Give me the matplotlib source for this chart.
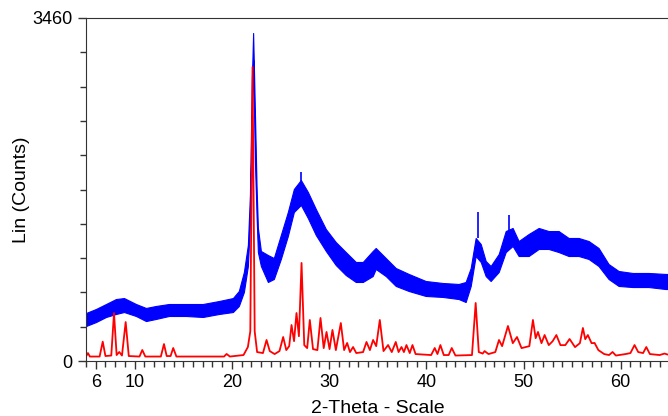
import matplotlib
matplotlib.use('Agg')
import matplotlib.pyplot as plt
from matplotlib.ticker import MultipleLocator, FixedLocator

plt.rcParams['font.family'] = ['Liberation Sans', 'DejaVu Sans']

# Red trace: (2-theta, counts), peaks and valleys
RED_THETA = [5.0, 5.2, 5.4, 6.4, 6.72, 7.0, 7.6, 7.88, 8.15, 8.42, 8.7, 9.08,
             9.4, 10.5, 10.79, 11.1, 12.7, 13.02, 13.3, 13.7, 13.97, 14.3,
             19.2, 19.46, 19.8, 21.2, 21.65, 21.9, 22.13, 22.35, 22.6, 23.2,
             23.57, 23.9, 24.4, 24.9, 25.28, 25.6, 25.9, 26.14, 26.4, 26.65,
             26.9, 27.17, 27.45, 27.75, 28.02, 28.35, 28.8, 29.12, 29.45,
             29.74, 30.05, 30.35, 30.7, 31.21, 31.55, 31.86, 32.15, 32.47,
             32.8, 33.5, 33.85, 34.2, 34.53, 34.85, 35.22, 35.6, 36.07, 36.45,
             36.86, 37.15, 37.45, 37.7, 37.96, 38.3, 38.58, 38.9, 40.5, 40.87,
             41.15, 41.45, 41.8, 42.3, 42.62, 43.0, 44.7, 45.08, 45.4, 45.8,
             46.0, 46.4, 47.1, 47.48, 47.8, 48.4, 48.9, 49.33, 49.8, 50.6,
             50.97, 51.25, 51.49, 51.85, 52.17, 52.6, 53.0, 53.38, 53.8, 54.3,
             54.74, 55.3, 55.8, 56.11, 56.35, 56.62, 57.0, 57.31, 57.7, 58.3,
             58.8, 59.16, 59.5, 60.5, 61.0, 61.42, 61.8, 62.3, 62.63, 63.0,
             64.0, 64.5, 65.0]
RED_COUNTS = [45, 80, 45, 45, 195, 50, 55, 484, 60, 91, 55, 393,
              50, 45, 111, 45, 45, 171, 50, 50, 131, 45,
              45, 71, 45, 60, 141, 300, 2966, 300, 90, 80,
              212, 100, 70, 100, 242, 110, 150, 363, 200, 484,
              250, 989, 160, 130, 414, 120, 110, 434, 130,
              293, 120, 313, 110, 383, 110, 182, 90, 141,
              80, 90, 192, 110, 212, 150, 414, 100, 161, 90,
              192, 90, 141, 90, 161, 80, 161, 70, 60, 131,
              70, 161, 60, 60, 131, 55, 60, 585, 90, 75,
              100, 70, 90, 212, 150, 353, 180, 242, 130, 150,
              414, 230, 293, 180, 262, 160, 200, 262, 160, 160,
              222, 140, 180, 333, 220, 262, 180, 182, 110, 70,
              60, 91, 55, 70, 80, 161, 90, 80, 141, 70,
              60, 75, 60]

# Blue trace: upper and lower edge of the noisy band
BLUE_THETA = [5.0, 6.03, 7.06, 8.08, 8.91, 10.14, 11.17, 12.19, 13.53, 15.28,
              17.02, 18.67, 20.11, 20.72, 21.24, 21.65, 21.86, 22.06, 22.19,
              22.37, 22.54, 22.68, 22.99, 23.71, 24.32, 25.04, 25.76, 26.38,
              27.1, 27.82, 28.64, 29.67, 30.69, 31.72, 32.75, 33.47, 34.49,
              34.8, 35.83, 36.86, 38.2, 39.94, 41.69, 43.33, 44.05, 44.57,
              45.08, 45.6, 46.11, 46.62, 47.45, 48.17, 48.88, 49.5, 50.53,
              51.56, 52.58, 53.61, 54.64, 55.67, 56.7, 57.72, 58.75, 59.78,
              61.22, 62.87, 64.61, 65.0]
BLUE_HIGH = [484, 525, 575, 625, 635, 575, 535, 555, 575, 575,
             575, 605, 635, 706, 898, 1170, 1674, 2834, 3309,
             2532, 1775, 1342, 1110, 1069, 1039, 1271, 1503, 1735,
             1826, 1705, 1533, 1331, 1200, 1099, 999, 999, 1110,
             1140, 1039, 938, 878, 807, 787, 777, 797, 938,
             1241, 1180, 1009, 958, 1079, 1311, 1342, 1210, 1281,
             1342, 1311, 1311, 1241, 1241, 1210, 1140, 978, 908,
             888, 888, 878, 878]
BLUE_LOW = [353, 393, 444, 474, 494, 454, 403, 424, 454, 454,
            444, 474, 494, 555, 696, 958, 1372, 2431, 3036,
            2027, 1473, 1099, 958, 797, 827, 1029, 1261, 1503,
            1574, 1442, 1271, 1110, 968, 867, 797, 797, 857,
            928, 857, 757, 706, 656, 646, 625, 595, 757,
            1059, 999, 857, 807, 898, 1099, 1160, 1059, 1059,
            1130, 1130, 1099, 1059, 1059, 1029, 958, 827, 757,
            746, 746, 726, 726]

# The few clear noise spikes sticking out of the blue band
SPIKE_THETA = [27.1, 45.29, 48.47]
SPIKE_FROM = [1700, 1241, 1250]
SPIKE_TO = [1906, 1503, 1473]

Y_MAX = 3460
X_TICKS = [6, 10, 20, 30, 40, 50, 60]
BLUE = '#0000ff'
RED = '#ff0000'

fig = plt.figure(figsize=(6.68, 4.16), dpi=100)
ax = fig.add_axes([86 / 668, 1 - 361 / 416, 1 - 86 / 668 + 0.002, 343 / 416])

ax.fill_between(BLUE_THETA, BLUE_LOW, BLUE_HIGH, color=BLUE, lw=0.8)
ax.vlines(SPIKE_THETA, SPIKE_FROM, SPIKE_TO, color=BLUE, lw=1.2)
ax.plot(RED_THETA, RED_COUNTS, color=RED, lw=1.3)

ax.set_xlim(5, 65)
ax.set_ylim(0, Y_MAX)
ax.xaxis.set_major_locator(FixedLocator(X_TICKS))
ax.xaxis.set_minor_locator(MultipleLocator(1))
ax.yaxis.set_major_locator(FixedLocator([0, Y_MAX]))
ax.yaxis.set_minor_locator(MultipleLocator(Y_MAX / 10))
ax.tick_params(which='major', direction='out', length=6, width=1,
               labelsize=13, color='#333333')
ax.tick_params(which='minor', direction='out', length=4, width=1,
               color='#333333')
ax.spines['right'].set_visible(False)
for s in ['left', 'bottom', 'top']:
    ax.spines[s].set_color('#333333')
ax.set_xlabel('2-Theta - Scale', fontsize=14, labelpad=6)
ax.set_ylabel('Lin (Counts)', fontsize=14, labelpad=2)

fig.savefig('out.png', dpi=100)
